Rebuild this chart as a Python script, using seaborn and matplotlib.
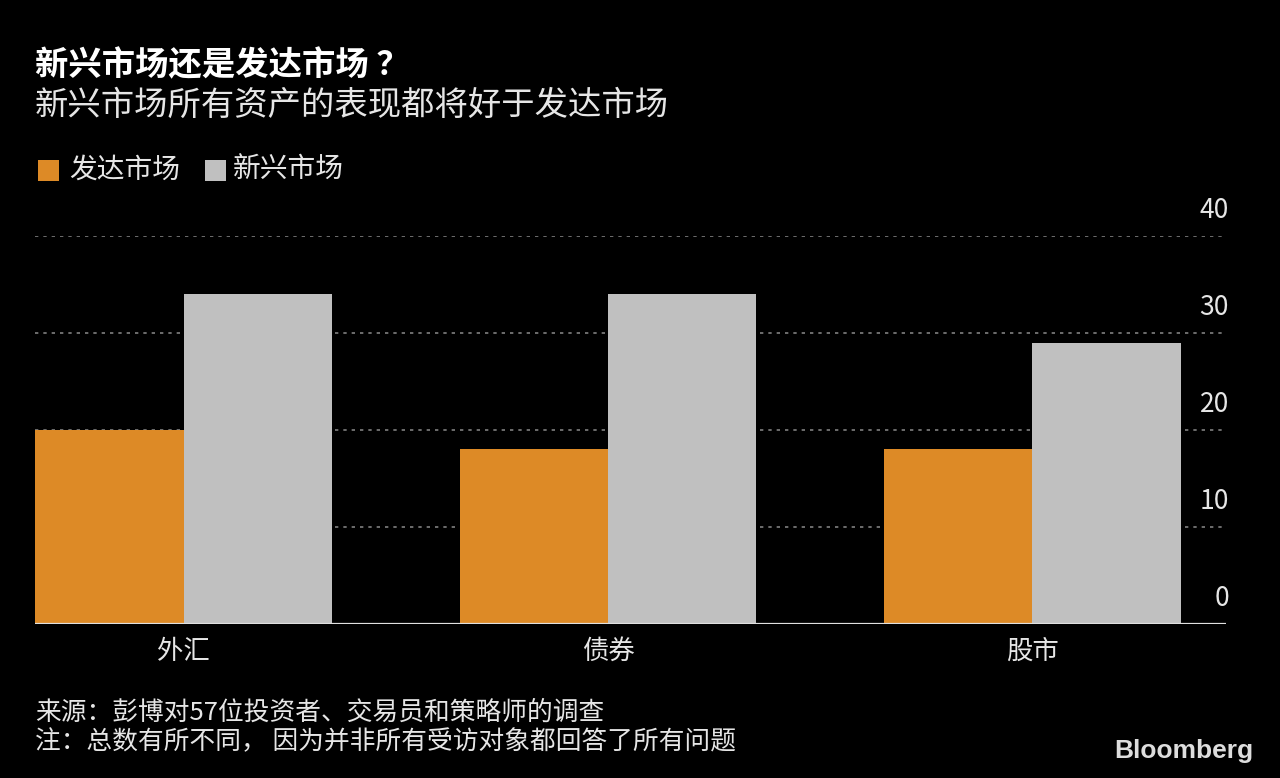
import matplotlib
matplotlib.use("Agg")
import matplotlib.pyplot as plt
import matplotlib.transforms as mtransforms
import seaborn as sns
import pandas as pd
from matplotlib.patches import Rectangle

categories = ["外汇", "债券", "股市"]
series_names = ["发达市场", "新兴市场"]
developed = [20, 18, 18]
emerging = [34, 34, 29]
yticks = [0, 10, 20, 30, 40]

df = pd.DataFrame({
    "资产": categories * 2,
    "市场": [series_names[0]] * 3 + [series_names[1]] * 3,
    "值": developed + emerging,
})

sns.set_theme(style="dark")
plt.rcParams["font.family"] = ["Noto Sans CJK SC", "DejaVu Sans"]

BG = "#000000"
ORANGE = "#DD8A26"
GRAY = "#C0C0C0"
TXT = "#E6E6E6"

fig = plt.figure(figsize=(12.8, 7.78), dpi=100, facecolor=BG)
ax = fig.add_axes([35 / 1280, 1 - 624 / 778, (1226 - 35) / 1280, (624 - 236) / 778])
ax.set_facecolor(BG)

sns.barplot(data=df, x="资产", y="值", hue="市场", order=categories,
            hue_order=series_names, palette=[ORANGE, GRAY], width=0.7,
            saturation=1, linewidth=0, ax=ax, legend=False)

ax.set_xlim(-0.351, 2.457)
ax.set_ylim(0, 40)
ax.set_xlabel("")
ax.set_ylabel("")
for s in ax.spines.values():
    s.set_visible(False)

ax.set_yticks(yticks)
ax.yaxis.tick_right()
ax.grid(axis="y", color="#808080", linestyle=(0, (2, 3)), linewidth=1.2)
ax.grid(axis="x", visible=False)
ax.set_axisbelow(True)
ax.axhline(0, color="#E0E0E0", linewidth=1.6, zorder=5)
ax.tick_params(axis="y", length=0, pad=0, labelsize=19, labelcolor=TXT)
offset = mtransforms.ScaledTranslation(2 / 72, 9 / 72, fig.dpi_scale_trans)
for lbl in ax.get_yticklabels():
    lbl.set_horizontalalignment("right")
    lbl.set_verticalalignment("bottom")
    lbl.set_transform(lbl.get_transform() + offset)
ax.tick_params(axis="x", length=0, pad=10, labelsize=19, labelcolor=TXT)

# Titles
fig.text(35 / 1280, 1 - 66 / 778, "新兴市场还是发达市场 ？", fontsize=24, fontweight="bold",
         color="white", va="center", ha="left")
fig.text(35 / 1280, 1 - 105 / 778, "新兴市场所有资产的表现都将好于发达市场", fontsize=24,
         color=TXT, va="center", ha="left")

# Legend
legend_items = [(series_names[0], ORANGE, 38, 69), (series_names[1], GRAY, 205, 233)]
for name, col, sx, tx in legend_items:
    fig.patches.append(Rectangle((sx / 1280, 1 - 181 / 778), 21 / 1280, 21 / 778,
                                 transform=fig.transFigure, facecolor=col, edgecolor="none"))
    fig.text(tx / 1280, 1 - 170 / 778, name, fontsize=20, color=TXT, va="center", ha="left")

# Footer
fig.text(35 / 1280, 1 - 713 / 778, "来源：彭博对57位投资者、交易员和策略师的调查", fontsize=18.5,
         color=TXT, va="center", ha="left")
fig.text(35 / 1280, 1 - 742 / 778, "注：总数有所不同， 因为并非所有受访对象都回答了所有问题", fontsize=18.5,
         color=TXT, va="center", ha="left")
fig.text(1253 / 1280, 1 - 751 / 778, "Bloomberg", fontsize=19, fontweight="bold",
         family=["Liberation Sans Narrow", "Liberation Sans", "DejaVu Sans"],
         color="#DDDDDD", va="center", ha="right")

fig.savefig("out.png", dpi=100, facecolor=BG)
